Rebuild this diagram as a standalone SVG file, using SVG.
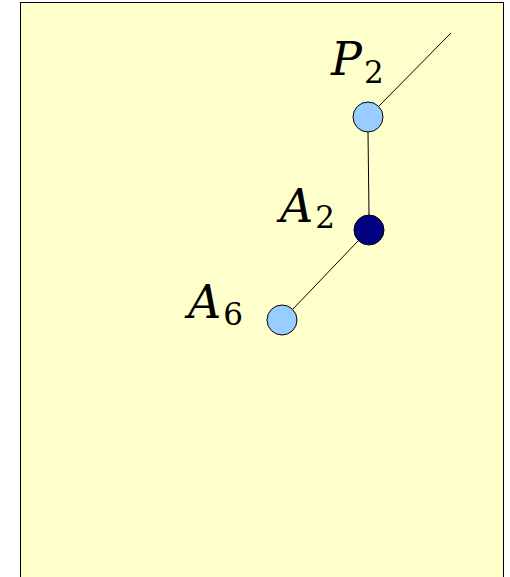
<svg xmlns="http://www.w3.org/2000/svg" width="510" height="577" viewBox="0 0 510 577">
<style>
.lbl{font-family:"DejaVu Serif",serif;font-style:italic;font-size:46px;fill:#000}
.sub{font-family:"DejaVu Serif",serif;font-style:normal;font-size:31px}
.edge{stroke:#000;stroke-width:1;fill:none}
.light{fill:#99ccff;stroke:#000;stroke-width:1}
.dark{fill:#000080;stroke:#000;stroke-width:1}
</style>
<rect x="0" y="0" width="510" height="577" fill="#ffffff"/>
<rect x="20.5" y="2.5" width="483" height="590" fill="#ffffcc" stroke="#000" stroke-width="1"/>
<g id="connectors">
<line class="edge" x1="379" y1="106" x2="451" y2="33"/>
<line class="edge" x1="368" y1="132" x2="369" y2="215"/>
<line class="edge" x1="358" y1="241" x2="293" y2="309"/>
</g>
<g id="P2">
<circle class="light" cx="368" cy="117" r="15"/>
<text class="lbl" x="331" y="75">P<tspan class="sub" dx="2" dy="8">2</tspan></text>
</g>
<g id="A2">
<circle class="dark" cx="369" cy="230" r="15"/>
<text class="lbl" x="280" y="222">A<tspan class="sub" dx="2" dy="6">2</tspan></text>
</g>
<g id="A6">
<circle class="light" cx="282" cy="320" r="15"/>
<text class="lbl" x="188" y="318">A<tspan class="sub" dx="2" dy="7">6</tspan></text>
</g>
</svg>
